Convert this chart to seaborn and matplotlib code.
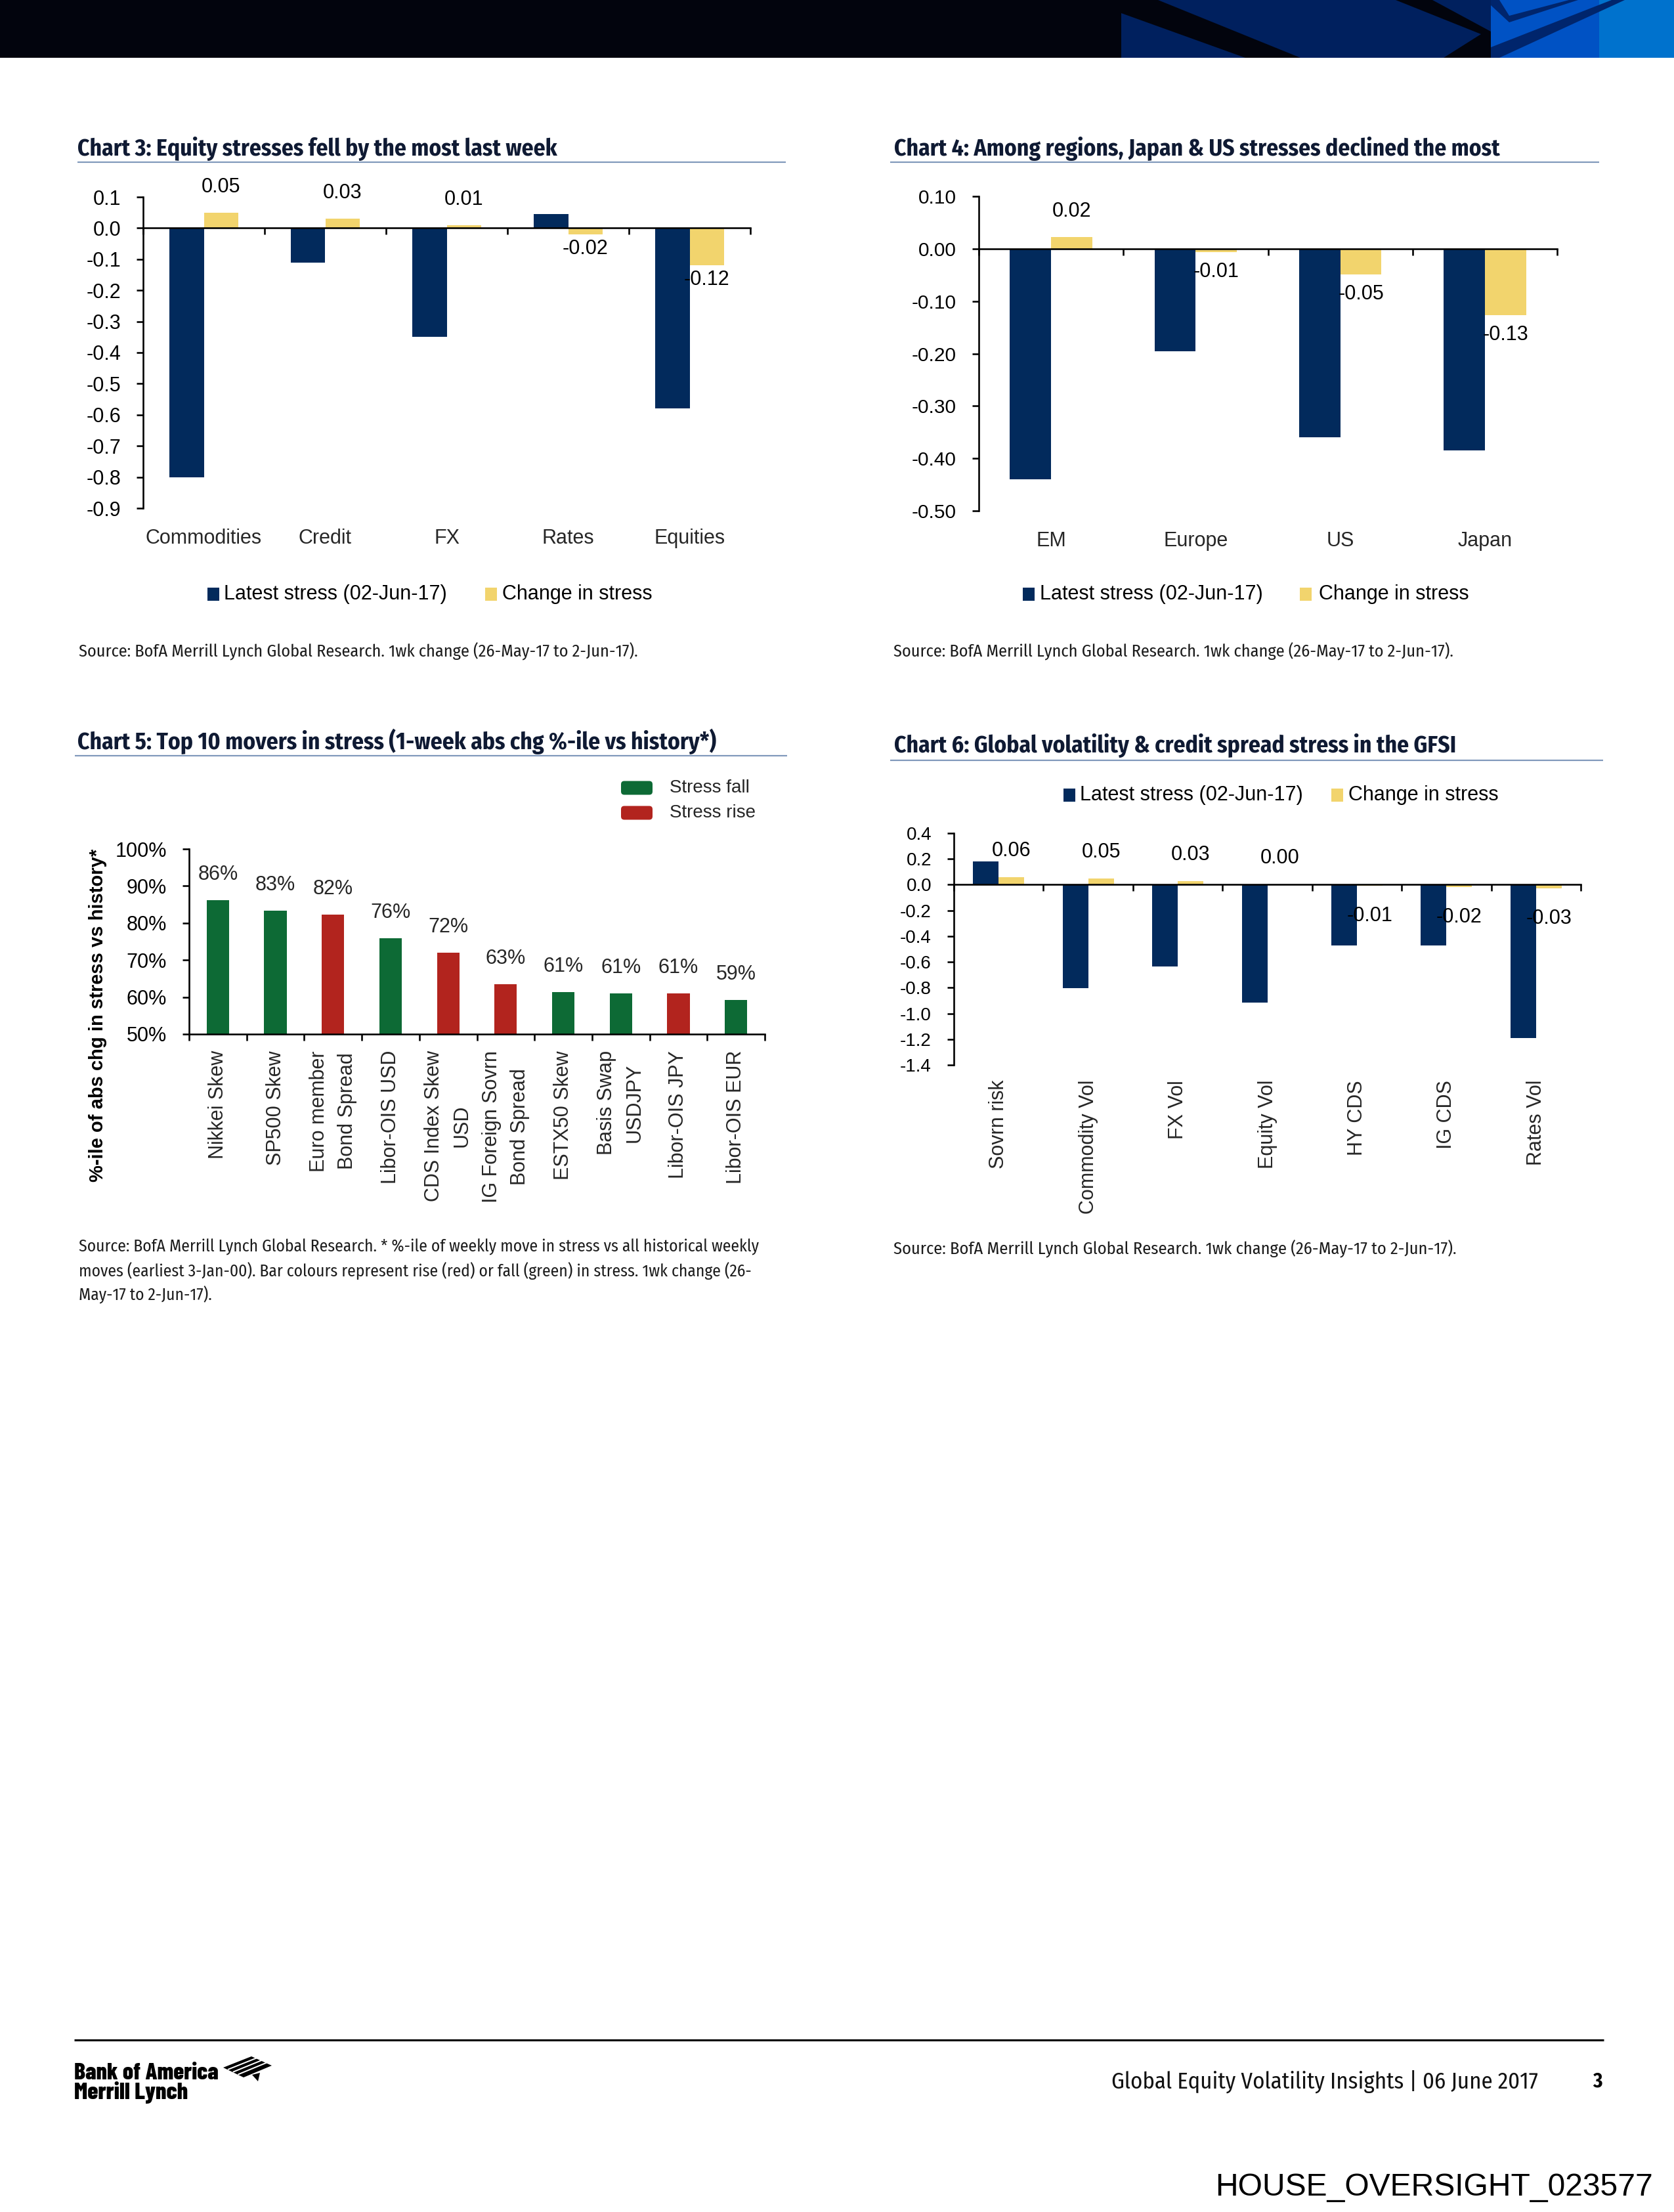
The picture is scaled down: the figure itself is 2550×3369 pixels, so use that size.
import numpy as np
import pandas as pd
import matplotlib
matplotlib.use("Agg")
import matplotlib.pyplot as plt
import matplotlib.patches as mpatches
from matplotlib.transforms import blended_transform_factory
from matplotlib import font_manager
import seaborn as sns

# ---------------- data ----------------
series_names = ["Latest stress (02-Jun-17)", "Change in stress"]

c3_title = "Chart 3: Equity stresses fell by the most last week"
c3_categories = ["Commodities", "Credit", "FX", "Rates", "Equities"]
c3_latest = [-0.80, -0.11, -0.35, 0.045, -0.58]
c3_change = [0.05, 0.03, 0.01, -0.02, -0.12]
c3_value_labels = ["0.05", "0.03", "0.01", "-0.02", "-0.12"]
c3_yticks = [0.1, 0.0, -0.1, -0.2, -0.3, -0.4, -0.5, -0.6, -0.7, -0.8, -0.9]
c3_yticklabels = ["0.1", "0.0", "-0.1", "-0.2", "-0.3", "-0.4", "-0.5", "-0.6", "-0.7", "-0.8", "-0.9"]

c4_title = "Chart 4: Among regions, Japan & US stresses declined the most"
c4_categories = ["EM", "Europe", "US", "Japan"]
c4_latest = [-0.44, -0.195, -0.36, -0.385]
c4_change = [0.022, -0.007, -0.049, -0.127]
c4_value_labels = ["0.02", "-0.01", "-0.05", "-0.13"]
c4_yticks = [0.10, 0.0, -0.10, -0.20, -0.30, -0.40, -0.50]
c4_yticklabels = ["0.10", "0.00", "-0.10", "-0.20", "-0.30", "-0.40", "-0.50"]

c5_title = "Chart 5: Top 10 movers in stress (1-week abs chg %-ile vs history*)"
c5_categories = ["Nikkei Skew", "SP500 Skew", "Euro member\nBond Spread", "Libor-OIS USD",
                 "CDS Index Skew\nUSD", "IG Foreign Sovrn\nBond Spread", "ESTX50 Skew",
                 "Basis Swap\nUSDJPY", "Libor-OIS JPY", "Libor-OIS EUR"]
c5_values = [86.2, 83.3, 82.3, 75.9, 71.9, 63.5, 61.4, 61.0, 61.0, 59.2]
c5_direction = ["Stress fall", "Stress fall", "Stress rise", "Stress fall", "Stress rise",
                "Stress rise", "Stress fall", "Stress fall", "Stress rise", "Stress fall"]
c5_value_labels = ["86%", "83%", "82%", "76%", "72%", "63%", "61%", "61%", "61%", "59%"]
c5_legend = ["Stress fall", "Stress rise"]
c5_yticks = [100, 90, 80, 70, 60, 50]
c5_yticklabels = ["100%", "90%", "80%", "70%", "60%", "50%"]
c5_ylabel = "%-ile of abs chg in stress vs history*"

c6_title = "Chart 6: Global volatility & credit spread stress in the GFSI"
c6_categories = ["Sovrn risk", "Commodity Vol", "FX Vol", "Equity Vol", "HY CDS", "IG CDS", "Rates Vol"]
c6_latest = [0.18, -0.805, -0.635, -0.915, -0.47, -0.47, -1.19]
c6_change = [0.06, 0.05, 0.03, 0.003, -0.01, -0.02, -0.03]
c6_value_labels = ["0.06", "0.05", "0.03", "0.00", "-0.01", "-0.02", "-0.03"]
c6_yticks = [0.4, 0.2, 0.0, -0.2, -0.4, -0.6, -0.8, -1.0, -1.2, -1.4]
c6_yticklabels = ["0.4", "0.2", "0.0", "-0.2", "-0.4", "-0.6", "-0.8", "-1.0", "-1.2", "-1.4"]

src_34 = "Source: BofA Merrill Lynch Global Research. 1wk change (26-May-17 to 2-Jun-17)."
src_5 = ["Source: BofA Merrill Lynch Global Research. * %-ile of weekly move in stress vs all historical weekly",
         "moves (earliest 3-Jan-00). Bar colours represent rise (red) or fall (green) in stress. 1wk change (26-",
         "May-17 to 2-Jun-17)."]
footer_text = "Global Equity Volatility Insights | 06 June 2017"
page_number = "3"
stamp = "HOUSE_OVERSIGHT_023577"
logo_lines = ["Bank of America", "Merrill Lynch"]

# ---------------- style ----------------
sns.set_theme(style="white")
fl = font_manager.fontManager.ttflist
names = {f.name for f in fl}
ARIAL = "Liberation Sans" if "Liberation Sans" in names else "DejaVu Sans"
plt.rcParams["font.family"] = [ARIAL, "DejaVu Sans"]
plt.rcParams["axes.unicode_minus"] = False


def pick(cands, default):
    for c in cands:
        if c in names:
            return c
    return default


COND = pick(["Fira Sans Condensed", "PT Sans Narrow", "Asap Condensed", "Roboto Condensed",
             "Archivo Narrow", "Liberation Sans Narrow"], ARIAL)
COND_SRC = pick(["Fira Sans Condensed", "Roboto Condensed", "Asap Condensed", "PT Sans Narrow"], COND)
LOGO = pick(["Barlow Condensed", "Roboto Condensed", "Archivo Narrow"], COND)
FOOT = pick(["Fira Sans Condensed", "PT Sans Narrow", "Roboto Condensed"], COND)

NAVY = "#022a5c"
YELLOW = "#f2d46d"
GREEN = "#0d6a35"
RED = "#b2241e"
AXC = "#000000"
TITLE_C = "#0f1a33"
RULE_C = "#8099bb"
SRC_C = "#1c1c1c"

W, H, DPI = 2550, 3369, 100
fig = plt.figure(figsize=(W / DPI, H / DPI), dpi=DPI)
fig.patch.set_facecolor("white")
ov = fig.add_axes([0, 0, 1, 1])
ov.set_xlim(0, W)
ov.set_ylim(H, 0)
ov.axis("off")
renderer = fig.canvas.get_renderer()


def pt(px):
    return px * 72.0 / DPI


LW = pt(2.6)


def px_axes(x0, ytop, x1, ybot):
    return fig.add_axes([x0 / W, 1 - ybot / H, (x1 - x0) / W, (ybot - ytop) / H])


def fit_text(x, y, s, width, size0=20, maxsize=None, **kw):
    t = ov.text(x, y, s, fontsize=size0, **kw)
    bb = t.get_window_extent(renderer=renderer)
    size = size0 * width / bb.width
    if maxsize is not None:
        size = min(size, maxsize)
    t.set_fontsize(size)
    return t


def style_axes(ax, n, yticks, yticklabels, ytick_size=22, zero_spine=True):
    ax.set_facecolor("none")
    for s in ["top", "right"]:
        ax.spines[s].set_visible(False)
    for s in ["left", "bottom"]:
        ax.spines[s].set_linewidth(LW)
        ax.spines[s].set_color(AXC)
    if zero_spine:
        ax.spines["bottom"].set_position(("data", 0))
    ax.set_xlim(-0.5, n - 0.5)
    ax.set_ylim(min(yticks), max(yticks))
    ax.set_xticks(np.arange(n + 1) - 0.5)
    ax.set_xticklabels([])
    ax.set_yticks(yticks)
    ax.set_yticklabels(yticklabels)
    ax.tick_params(axis="both", which="major", direction="out", length=pt(10), width=LW,
                   color=AXC, bottom=True, left=True, top=False, right=False)
    ax.tick_params(axis="y", labelsize=ytick_size, pad=pt(24), labelcolor="black")
    ax.set_xlabel("")
    ax.set_ylabel("")
    ax.grid(False)


def grouped(ax, cats, latest, change):
    df = pd.DataFrame({
        "category": list(cats) * 2,
        "series": [series_names[0]] * len(cats) + [series_names[1]] * len(cats),
        "value": list(latest) + list(change),
    })
    sns.barplot(data=df, x="category", y="value", hue="series", order=cats,
                hue_order=series_names, palette=[NAVY, YELLOW], width=0.57,
                saturation=1, errorbar=None, legend=False, linewidth=0, ax=ax)


def value_labels(ax, container, labels, up, down, size=22):
    for patch, lab in zip(container.patches, labels):
        xc = patch.get_x() + patch.get_width() / 2
        h = patch.get_height()
        off = up if h >= 0 else -down
        ax.annotate(lab, xy=(xc, h), xytext=(0, off), textcoords="offset pixels",
                    ha="center", va="center", fontsize=size, color="black")


def legend_pair(x_sq1, x_tx1, x_sq2, x_tx2, yc, size=22):
    for xs, xt, col, name in [(x_sq1, x_tx1, NAVY, series_names[0]),
                              (x_sq2, x_tx2, YELLOW, series_names[1])]:
        ov.add_patch(mpatches.Rectangle((xs, yc - 10), 18, 20, color=col, lw=0))
        ov.text(xt, yc, name, fontsize=size, ha="left", va="center", color="black")


def title_block(x, ybase, s, width, rule_y, rx0, rx1):
    fit_text(x, ybase, s, width, size0=24, maxsize=25.5, family=COND, weight="bold",
             va="baseline", ha="left", color=TITLE_C)
    ov.plot([rx0, rx1], [rule_y, rule_y], color=RULE_C, lw=pt(2.2), solid_capstyle="butt")


def source_text(x, y, s, width):
    return fit_text(x, y, s, width, size0=18, family=COND_SRC, weight="normal",
                    ha="left", va="center", color=SRC_C)


# ---------------- header ----------------
BLK = "#02040d"
ov.add_patch(mpatches.Rectangle((0, 0), W, 88, color=BLK, lw=0))
ov.add_patch(mpatches.Rectangle((1708, 0), 563, 88, color="#00205e", lw=0))
ov.add_patch(mpatches.Polygon([(1708, 0), (1764, 0), (1981, 88), (1897, 88), (1708, 20)],
                              closed=True, color=BLK, lw=0))
ov.add_patch(mpatches.Polygon([(2126, 0), (2182, 0), (2271, 48), (2271, 88), (2199, 88), (2256, 52)],
                              closed=True, color=BLK, lw=0))
ov.add_patch(mpatches.Rectangle((2271, 0), 165, 88, color="#0052c4", lw=0))
ov.add_patch(mpatches.Rectangle((2436, 0), 114, 88, color="#0072cd", lw=0))
ov.add_patch(mpatches.Polygon([(2271, 0), (2284, 0), (2299, 24), (2390, 0), (2404, 0), (2299, 34), (2271, 8)],
                              closed=True, color="#00256c", lw=0))
ov.add_patch(mpatches.Polygon([(2271, 72), (2455, 0), (2475, 0), (2284, 88), (2271, 88)],
                              closed=True, color="#00256c", lw=0))

# ---------------- chart 3 ----------------
title_block(118, 237, c3_title, 728, 247, 118, 1197)
ax3 = px_axes(218, 300, 1143, 774)
grouped(ax3, c3_categories, c3_latest, c3_change)
style_axes(ax3, len(c3_categories), c3_yticks, c3_yticklabels, ytick_size=22)
value_labels(ax3, ax3.containers[1], c3_value_labels, 39, 22)
tr3 = blended_transform_factory(ax3.transData, ov.transData)
for i, c in enumerate(c3_categories):
    ax3.text(i, 820, c, transform=tr3, ha="center", va="center", fontsize=22)
legend_pair(316, 341, 739, 765, 905)
source_text(120, 992, src_34, 855)

# ---------------- chart 4 ----------------
title_block(1362, 237, c4_title, 921, 247, 1356, 2436)
ax4 = px_axes(1491, 299, 2372, 778)
grouped(ax4, c4_categories, c4_latest, c4_change)
style_axes(ax4, len(c4_categories), c4_yticks, c4_yticklabels, ytick_size=21.5)
value_labels(ax4, ax4.containers[1], c4_value_labels, 39, 30)
tr4 = blended_transform_factory(ax4.transData, ov.transData)
for i, c in enumerate(c4_categories):
    ax4.text(i, 824, c, transform=tr4, ha="center", va="center", fontsize=22)
legend_pair(1558, 1584, 1980, 2009, 905)
source_text(1361, 992, src_34, 856)

# ---------------- chart 5 ----------------
title_block(118, 1141, c5_title, 987, 1151, 114, 1199)
ax5 = px_axes(288, 1293, 1165, 1575)
df5 = pd.DataFrame({"mover": c5_categories, "pct": c5_values, "direction": c5_direction})
sns.barplot(data=df5, x="mover", y="pct", hue="direction", order=c5_categories,
            hue_order=c5_legend, palette={"Stress fall": GREEN, "Stress rise": RED},
            dodge=False, width=0.39, saturation=1, errorbar=None, legend=False,
            linewidth=0, ax=ax5)
style_axes(ax5, len(c5_categories), c5_yticks, c5_yticklabels, ytick_size=22, zero_spine=False)
bars5 = sorted([p for p in ax5.patches if p.get_height() > 0], key=lambda p: p.get_x())
for patch, lab in zip(bars5, c5_value_labels):
    xc = patch.get_x() + patch.get_width() / 2
    ax5.annotate(lab, xy=(xc, patch.get_y() + patch.get_height()), xytext=(0, 39),
                 textcoords="offset pixels", ha="center", va="center", fontsize=22)
tr5 = blended_transform_factory(ax5.transData, ov.transData)
for i, c in enumerate(c5_categories):
    ax5.text(i, 1600, c, transform=tr5, rotation=90, ha="center", va="top",
             multialignment="center", linespacing=1.55, fontsize=22)
ov.text(149, 1546, c5_ylabel, rotation=90, ha="center", va="center", fontsize=21,
        weight="bold", color="black")
for (yy, col, name) in [(1200, GREEN, c5_legend[0]), (1238, RED, c5_legend[1])]:
    ov.add_patch(mpatches.FancyBboxPatch((946, yy - 10.5), 48, 21,
                                         boxstyle="round,pad=0,rounding_size=5",
                                         color=col, lw=0))
    ov.text(1020, yy, name, fontsize=20, ha="left", va="center")
t5 = source_text(120, 1899, src_5[0], 1039)
for yy, line in zip([1936, 1972], src_5[1:]):
    ov.text(120, yy, line, fontsize=t5.get_fontsize(), family=COND_SRC, weight="normal",
            ha="left", va="center", color=SRC_C)

# ---------------- chart 6 ----------------
title_block(1362, 1146, c6_title, 854, 1158, 1356, 2442)
ax6 = px_axes(1453, 1269, 2408, 1622)
grouped(ax6, c6_categories, c6_latest, c6_change)
style_axes(ax6, len(c6_categories), c6_yticks, c6_yticklabels, ytick_size=20)
value_labels(ax6, ax6.containers[1], c6_value_labels, 40, 46)
tr6 = blended_transform_factory(ax6.transData, ov.transData)
for i, c in enumerate(c6_categories):
    ax6.text(i, 1645, c, transform=tr6, rotation=90, ha="center", va="top", fontsize=22)
legend_pair(1620, 1645, 2028, 2054, 1211)
source_text(1361, 1902, src_34, 860)

# ---------------- footer ----------------
ov.plot([113, 2443], [3107, 3107], color="#111111", lw=pt(3.2), solid_capstyle="butt")
fit_text(113, 3167, logo_lines[0], 220, size0=16, family=LOGO, weight="heavy", ha="left",
         va="baseline", color="black")
fit_text(113, 3197, logo_lines[1], 174, size0=16, family=LOGO, weight="heavy", ha="left",
         va="baseline", color="black")
ov.add_patch(mpatches.Polygon([(340, 3149), (383, 3132), (414, 3146), (371, 3164)],
                              closed=True, color="black", lw=0))
for k in range(1, 4):
    f = k / 4.0
    ov.plot([340 + 31 * f, 383 + 31 * f], [3149 + 15 * f - 1, 3132 + 14 * f - 1],
            color="white", lw=pt(2))
ov.add_patch(mpatches.Polygon([(384, 3160), (396, 3157), (393, 3170)], closed=True, color="black", lw=0))

fit_text(1693, 3170, footer_text, 650, size0=20, family=FOOT, ha="left", va="center",
         color="#111111")
ov.text(2433, 3170, page_number, fontsize=22, family=FOOT, weight="bold", ha="center",
        va="center", color="black")
fit_text(1851, 3331, stamp, 667, size0=34, ha="left", va="center", color="black")

fig.savefig("out.png", dpi=DPI, facecolor="white")
